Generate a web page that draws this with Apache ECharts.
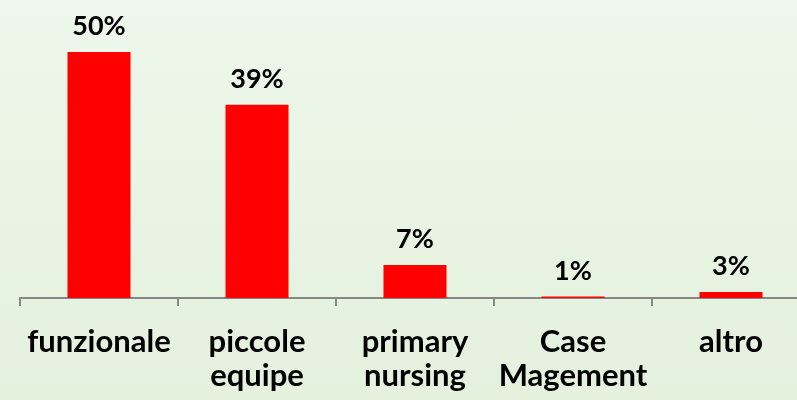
<!DOCTYPE html>
<html>
<head>
<meta charset="utf-8">
<script src="https://cdn.jsdelivr.net/npm/echarts@6/dist/echarts.min.js"></script>
<style>
html,body{margin:0;padding:0;overflow:hidden;width:797px;height:400px;background:linear-gradient(to bottom,#eef7eb,#e4f1dd);}
#chart{width:810px;height:400px;}
</style>
</head>
<body>
<div id="chart"></div>
<script>
const categories = ['funzionale', 'piccole\nequipe', 'primary\nnursing', 'Case\nMagement', 'altro'];
const values = [50, 39.3, 6.7, 0.3, 1.2];
const valueLabels = ['50%', '39%', '7%', '1%', '3%'];

const chart = echarts.init(document.getElementById('chart'), null, {renderer: 'canvas'});
const font = 'Lato, Calibri, "Noto Sans", sans-serif';
chart.setOption({
  animation: false,
  backgroundColor: 'transparent',
  grid: {left: 20, right: 0, top: 52, bottom: 102, containLabel: false},
  xAxis: {
    type: 'category',
    data: categories,
    axisLine: {lineStyle: {color: '#878787', width: 2}},
    axisTick: {show: true, length: 8, lineStyle: {color: '#878787', width: 2}},
    axisLabel: {
      color: '#000', fontFamily: font, fontWeight: 'bold', fontSize: 31,
      lineHeight: 34, margin: 27, interval: 0
    }
  },
  yAxis: {type: 'value', min: 0, max: 50, show: false, splitLine: {show: false}},
  series: [{
    type: 'bar',
    data: values,
    barWidth: 63,
    itemStyle: {color: '#ff0000'},
    label: {
      show: true, position: 'top', distance: 12,
      color: '#000', fontFamily: font, fontWeight: 'bold', fontSize: 27,
      formatter: p => valueLabels[p.dataIndex]
    }
  }]
});
</script>
</body>
</html>
